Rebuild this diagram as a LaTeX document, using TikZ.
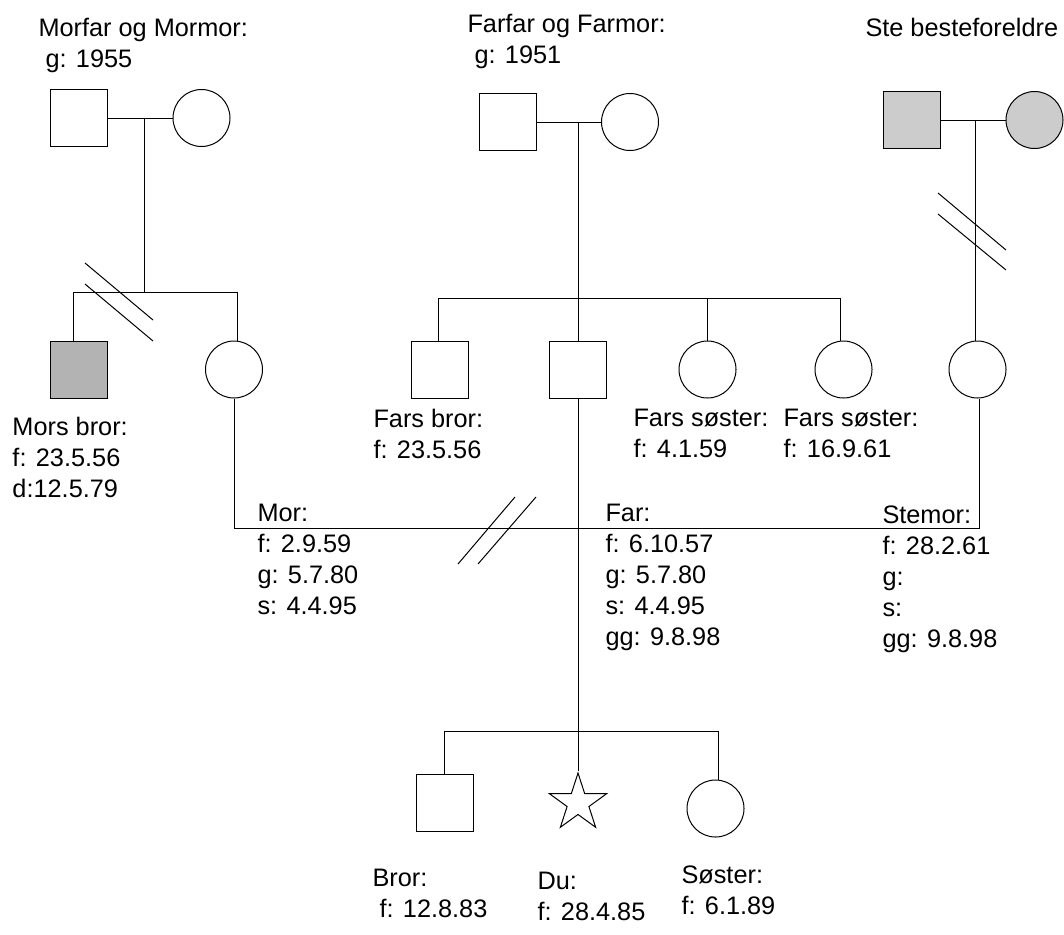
\documentclass[tikz,border=0pt]{standalone}
\usepackage{fontspec}
\setmainfont{Liberation Sans}
\usetikzlibrary{shapes.geometric}
\definecolor{deadgray}{HTML}{B3B3B3}
\definecolor{stepgray}{HTML}{CCCCCC}

\begin{document}
\begin{tikzpicture}[ x=1pt, y=-1pt, line width=1pt,
	male/.style={ draw, rectangle, minimum size=57pt, inner sep=0pt },
	female/.style={ draw, circle, minimum size=57pt, inner sep=0pt },
	you/.style={ draw, star, star points=5, star point ratio=2.618,
		minimum size=60pt, inner sep=0pt },
	info/.style={ anchor=north west, align=left, inner sep=0pt,
		font=\fontsize{25.3}{31}\selectfont } ]
	\useasboundingbox (0,0) rectangle (1064,934);

	\node [ male ] (morfar) at (78.5,118) {};
	\node [ female ] (mormor) at (201.5,118) {};
	\node [ male ] (farfar) at (507.5,122) {};
	\node [ female ] (farmor) at (630,122) {};
	\node [ male, fill=stepgray ] (stefar) at (911.5,120) {};
	\node [ female, fill=stepgray ] (stemormor) at (1034.5,120) {};

	\node [ male, fill=deadgray ] (morsbror) at (78.5,369.5) {};
	\node [ female ] (mor) at (234,369.5) {};
	\node [ male ] (farsbror) at (440,369.5) {};
	\node [ male ] (far) at (578,369.5) {};
	\node [ female ] (farssoster1) at (707.5,369.5) {};
	\node [ female ] (farssoster2) at (843.5,369.5) {};
	\node [ female ] (stemor) at (977.5,369.5) {};

	\node [ male ] (bror) at (444.5,802.5) {};
	\node [ you ] (du) at (578,803) {};
	\node [ female ] (soster) at (715.5,808.5) {};

	\coordinate (mfdrop) at (144,118);
	\coordinate (mfbarl) at (73,292);
	\coordinate (mfbarr) at (237,292);
	\coordinate (ffdrop) at (578,122);
	\coordinate (ffbarl) at (438,298);
	\coordinate (ffbarr) at (840,298);
	\coordinate (sfdrop) at (975,120);
	\coordinate (morcorner) at (234,528);
	\coordinate (stemorcorner) at (979,528);
	\coordinate (kidsl) at (444,731);
	\coordinate (kidsr) at (718,731);

	\draw (morfar) -- (mormor);
	\draw (mfdrop) -- (mfdrop |- mfbarl);
	\draw (mfbarl |- morsbror.north) -- (mfbarl) -- (mfbarr) -- (mfbarr |- mor.north);

	\draw (farfar) -- (farmor);
	\draw (ffdrop) -- (far.north);
	\draw (ffbarl |- farsbror.north) -- (ffbarl) -- (ffbarr) -- (ffbarr |- farssoster2.north);
	\draw (farssoster1.north) -- (farssoster1.north |- ffbarl);

	\draw (stefar) -- (stemormor);
	\draw (sfdrop) -- (sfdrop |- stemor.north);

	\draw (mor.south) -- (morcorner) -- (stemorcorner) -- (stemorcorner |- stemor.south);
	\draw (far.south) -- (du.north);
	\draw (kidsl |- bror.north) -- (kidsl) -- (kidsr) -- (kidsr |- soster.north);

	\draw (85,263) -- (153,320);
	\draw (85,284) -- (153,341);
	\draw (938,193) -- (1006,250);
	\draw (938,214) -- (1006,270);
	\draw (458,564) -- (515,497);
	\draw (478,564) -- (536,497);

	\node [ info ] (morfartxt) at (38,18) { Morfar og Mormor:\\\ g: 1955 };
	\node [ info ] (farfartxt) at (467,14) { Farfar og Farmor:\\\ g: 1951 };
	\node [ info ] (stetxt) at (865,18) { Ste besteforeldre };
	\node [ info ] (morsbrortxt) at (12,417) { Mors bror:\\f: 23.5.56\\d:12.5.79 };
	\node [ info ] (mortxt) at (257,504) { Mor:\\f: 2.9.59\\g: 5.7.80\\s: 4.4.95 };
	\node [ info ] (farsbrortxt) at (373,409) { Fars bror:\\f: 23.5.56 };
	\node [ info ] (farssoster1txt) at (633,409) { Fars søster:\\f: 4.1.59 };
	\node [ info ] (farssoster2txt) at (783,409) { Fars søster:\\f: 16.9.61 };
	\node [ info ] (fartxt) at (605,504) { Far:\\f: 6.10.57\\g: 5.7.80\\s: 4.4.95\\gg: 9.8.98 };
	\node [ info ] (stemortxt) at (882,505) { Stemor:\\f: 28.2.61\\g:\\s:\\gg: 9.8.98 };
	\node [ info ] (brortxt) at (372,869) { Bror:\\\ f: 12.8.83 };
	\node [ info ] (dutxt) at (537,872) { Du:\\f: 28.4.85 };
	\node [ info ] (sostertxt) at (681,865) { Søster:\\f: 6.1.89 };
\end{tikzpicture}
\end{document}
